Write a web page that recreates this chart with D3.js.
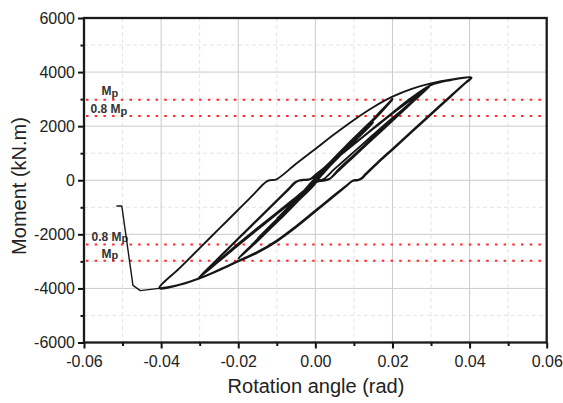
<!DOCTYPE html>
<html>
<head>
<meta charset="utf-8">
<script src="https://cdn.jsdelivr.net/npm/d3@7"></script>
<style>
  html, body { margin: 0; padding: 0; background: #fff; }
  svg { display: block; font-family: "Liberation Sans", Arial, sans-serif; }
</style>
</head>
<body>
<svg id="chart" width="563" height="403"></svg>
<script>
// ---------------- DATA ----------------
const xTicks = [-0.06, -0.04, -0.02, 0.00, 0.02, 0.04, 0.06];
const yTicks = [-6000, -4000, -2000, 0, 2000, 4000, 6000];
const xMinor = [-0.05, -0.03, -0.01, 0.01, 0.03, 0.05];
const yMinor = [-5000, -3000, -1000, 1000, 3000, 5000];

const xTitle = "Rotation angle (rad)";
const yTitle = "Moment (kN.m)";

// plastic moment reference lines
const mpLevels = [
  { value: 2975, label: "0.8", kind: "Mp" },
  { value: 2380, label: "0.8 ", kind: "0.8Mp" },
  { value: -2380, label: "0.8 ", kind: "0.8Mp" },
  { value: -2975, label: "", kind: "Mp" }
];

// hysteresis branches: [rotation (rad), moment (kN.m)]
const cycle010 = [[0,0],[0.003,420],[0.006,850],[0.010,1430],[0.008,1160],[0.004,560],[0.001,80],[0,-60],
  [-0.003,-470],[-0.006,-880],[-0.010,-1440],[-0.008,-1170],[-0.004,-580],[-0.001,-90],[0,50],
  [0.003,460],[0.006,880],[0.010,1450],[0.008,1180],[0.004,590],[0.001,100],[0,-40],
  [-0.003,-450],[-0.006,-860],[-0.010,-1420],[-0.008,-1150],[-0.004,-560],[-0.001,-70],[0,60]];

const cycle015 = [[0.004,600],[0.008,1150],[0.012,1700],[0.015,2130],[0.012,1750],[0.008,1180],[0.004,580],[0.001,120],[0,-80],
  [-0.004,-650],[-0.008,-1200],[-0.012,-1760],[-0.015,-2170],[-0.012,-1790],[-0.008,-1220],[-0.004,-630],[-0.001,-110],[0,70],
  [0.004,640],[0.008,1200],[0.012,1740],[0.015,2170],[0.012,1790],[0.008,1220],[0.004,620],[0.001,150],[0,-60],
  [-0.004,-620],[-0.008,-1170],[-0.012,-1730],[-0.015,-2150],[-0.012,-1760],[-0.008,-1190],[-0.004,-600],[-0.001,-90],[0,90]];

const cycle020 = [[0.004,650],[0.008,1230],[0.012,1790],[0.016,2350],[0.020,2980],[0.017,2520],[0.013,1920],[0.008,1220],[0.004,640],[0.001,180],[0,-120],
  [-0.004,-700],[-0.008,-1280],[-0.012,-1830],[-0.016,-2380],[-0.020,-2900],[-0.017,-2470],[-0.013,-1880],[-0.008,-1180],[-0.004,-600],[-0.001,-120],[0,120],
  [0.004,700],[0.008,1280],[0.012,1840],[0.016,2400],[0.020,3010],[0.017,2560],[0.013,1960],[0.008,1260],[0.004,670],[0.001,200],[0,-100],
  [-0.004,-680],[-0.008,-1260],[-0.012,-1810],[-0.016,-2360],[-0.020,-2890]];

const cycle030 = [[-0.016,-2330],[-0.012,-1760],[-0.008,-1180],[-0.004,-600],[-0.0015,-180],[0.0005,-20],[0.002,30],[0.005,420],
  [0.010,1050],[0.015,1680],[0.020,2300],[0.025,2900],[0.0297,3480],
  [0.026,2990],[0.020,2200],[0.015,1540],[0.010,880],[0.006,350],[0.0035,30],[0.002,-20],[0.0005,-50],
  [-0.002,-330],[-0.006,-790],[-0.010,-1250],[-0.015,-1820],[-0.020,-2400],[-0.025,-3000],[-0.0305,-3640],
  [-0.026,-3010],[-0.020,-2170],[-0.015,-1470],[-0.010,-770],[-0.007,-350],[-0.0052,-90],[-0.0042,-15],[-0.003,5],[-0.0015,30],
  [0,200],[0.005,760],[0.010,1330],[0.015,1900],[0.020,2470],[0.025,3000],[0.0297,3480],
  [0.026,3040],[0.020,2250],[0.015,1590],[0.010,930],[0.006,400],[0.0038,60],[0.0025,10],[0.001,-20],
  [-0.002,-290],[-0.006,-740],[-0.010,-1200],[-0.015,-1770],[-0.020,-2350],[-0.025,-2960],[-0.0305,-3640]];

const cycle040 = [[-0.026,-3000],[-0.020,-2150],[-0.015,-1450],[-0.010,-750],[-0.007,-320],[-0.0052,-70],[-0.004,0],[-0.0025,25],[-0.001,60],
  [0.005,760],[0.010,1340],[0.015,1920],[0.020,2500],[0.025,3060],[0.030,3520],[0.035,3700],[0.0405,3790],
  [0.039,3600],[0.035,3080],[0.030,2430],[0.025,1780],[0.020,1130],[0.016,610],[0.013,200],[0.012,60],[0.011,0],[0.0097,-25],
  [0.008,-220],[0.005,-570],[0.000,-1160],[-0.005,-1740],[-0.010,-2260],[-0.015,-2680],[-0.020,-3000],[-0.025,-3330],[-0.030,-3630],[-0.035,-3860],[-0.0405,-4000],
  [-0.035,-3220],[-0.030,-2510],[-0.025,-1800],[-0.020,-1090],[-0.016,-520],[-0.0135,-150],[-0.0125,-30],[-0.0115,5],[-0.0101,35],
  [-0.005,610],[0,1160],[0.005,1710],[0.010,2230],[0.015,2700],[0.020,3090],[0.025,3380],[0.030,3580],[0.035,3720],[0.0405,3800],
  [0.039,3620],[0.035,3110],[0.030,2460],[0.025,1810],[0.020,1160],[0.016,640],[0.013,230],[0.012,80],[0.011,15],[0.0097,-10],
  [0.008,-200],[0.005,-540],[0.000,-1120],[-0.005,-1700],[-0.010,-2230],[-0.015,-2650],[-0.020,-2980],[-0.025,-3310],[-0.030,-3620],[-0.035,-3850],[-0.0405,-4000]];

const failure = [[-0.0405,-4000],[-0.0454,-4080],[-0.0473,-3890],[-0.0502,-950],[-0.0516,-950]];

// ---------------- CHART ----------------
const svg = d3.select("#chart");
const L = 84, R = 546.7, T = 18, B = 342.5;
const x = d3.scaleLinear().domain([-0.06, 0.06]).range([L, R]);
const y = d3.scaleLinear().domain([-6000, 6000]).range([B, T]);

// minor grid (dashed)
svg.append("g").selectAll("line.mx").data(xMinor).join("line")
  .attr("x1", d => x(d)).attr("x2", d => x(d)).attr("y1", T).attr("y2", B)
  .attr("stroke", "#e4e4e4").attr("stroke-width", 1).attr("stroke-dasharray", "4,3");
svg.append("g").selectAll("line.my").data(yMinor).join("line")
  .attr("x1", L).attr("x2", R).attr("y1", d => y(d)).attr("y2", d => y(d))
  .attr("stroke", "#e4e4e4").attr("stroke-width", 1).attr("stroke-dasharray", "4,3");

// major grid
svg.append("g").selectAll("line").data(xTicks.slice(1, -1)).join("line")
  .attr("x1", d => x(d)).attr("x2", d => x(d)).attr("y1", T).attr("y2", B)
  .attr("stroke", "#cbcbcb").attr("stroke-width", 1);
svg.append("g").selectAll("line").data(yTicks.slice(1, -1)).join("line")
  .attr("x1", L).attr("x2", R).attr("y1", d => y(d)).attr("y2", d => y(d))
  .attr("stroke", "#cbcbcb").attr("stroke-width", 1);

// reference lines
svg.append("g").selectAll("line").data(mpLevels).join("line")
  .attr("x1", L + 2).attr("x2", R).attr("y1", d => y(d.value)).attr("y2", d => y(d.value))
  .attr("stroke", "#ff2a2a").attr("stroke-width", 2).attr("stroke-dasharray", "2.5,6.2");

// reference labels
const labelPos = [
  { v: 2975, x: 101.5, dy: -4.5, pre: "" },
  { v: 2380, x: 90.5, dy: -2.5, pre: "0.8 " },
  { v: -2380, x: 91.5, dy: -3.5, pre: "0.8 " },
  { v: -2975, x: 101.5, dy: -2.5, pre: "" }
];
const lg = svg.append("g").attr("font-size", 12).attr("font-weight", "bold").attr("fill", "#333");
labelPos.forEach(p => {
  const t = lg.append("text").attr("x", p.x).attr("y", y(p.v) + p.dy);
  t.append("tspan").text(p.pre + "M");
  t.append("tspan").attr("font-size", 11).attr("dy", 1.2).text("p");
});

// curves
const line = d3.line().x(d => x(d[0])).y(d => y(d[1])).curve(d3.curveCatmullRom.alpha(0.5));
const hysteresis = [].concat(cycle010, cycle015, cycle020, cycle030, cycle040);
svg.append("path").datum(hysteresis).attr("d", line)
  .attr("fill", "none").attr("stroke", "#161616").attr("stroke-width", 1.9).attr("stroke-linejoin", "round");
svg.append("path").datum(failure).attr("d", d3.line().x(d => x(d[0])).y(d => y(d[1])))
  .attr("fill", "none").attr("stroke", "#161616").attr("stroke-width", 1.4).attr("stroke-linejoin", "round");

// axes
const fmtX = d => d.toFixed(2);
const fmtY = d => String(d);
const ax = svg.append("g").attr("transform", `translate(0,${B})`)
  .call(d3.axisBottom(x).tickValues(xTicks).tickFormat(fmtX).tickSize(6).tickPadding(7));
const axm = svg.append("g").attr("transform", `translate(0,${B})`)
  .call(d3.axisBottom(x).tickValues(xMinor).tickFormat("").tickSize(3.5));
const ay = svg.append("g").attr("transform", `translate(${L},0)`)
  .call(d3.axisLeft(y).tickValues(yTicks).tickFormat(fmtY).tickSize(6).tickPadding(3));
const aym = svg.append("g").attr("transform", `translate(${L},0)`)
  .call(d3.axisLeft(y).tickValues(yMinor).tickFormat("").tickSize(3.5));
[ax, axm, ay, aym].forEach(g => {
  g.select(".domain").remove();
  g.selectAll(".tick line").attr("stroke", "#111").attr("stroke-width", 2);
  g.selectAll("text").attr("font-size", 16).attr("fill", "#222")
    .attr("font-family", "'Liberation Sans', Arial, sans-serif");
});

// frame
svg.append("rect").attr("x", L).attr("y", T).attr("width", R - L).attr("height", B - T)
  .attr("fill", "none").attr("stroke", "#1a1a1a").attr("stroke-width", 2.3);

// titles
svg.append("text").attr("x", 316).attr("y", 393).attr("text-anchor", "middle")
  .attr("font-size", 20).attr("fill", "#222").text(xTitle);
svg.append("text").attr("transform", "translate(26,186) rotate(-90)").attr("text-anchor", "middle")
  .attr("font-size", 20).attr("fill", "#222").text(yTitle);
</script>
</body>
</html>
